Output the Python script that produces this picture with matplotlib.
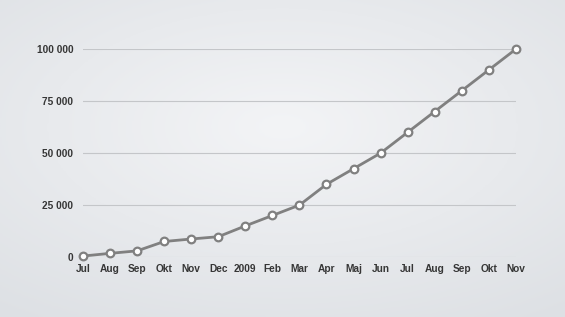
import numpy as np
import matplotlib
matplotlib.use("Agg")
import matplotlib.pyplot as plt
from matplotlib.colors import LinearSegmentedColormap
from matplotlib.ticker import FuncFormatter

months = ["Jul", "Aug", "Sep", "Okt", "Nov", "Dec", "2009", "Feb", "Mar",
          "Apr", "Maj", "Jun", "Jul", "Aug", "Sep", "Okt", "Nov"]
values = [500, 1800, 3000, 7500, 8700, 9800, 15000, 20000, 25000,
          35000, 42500, 50000, 60000, 70000, 80000, 90000, 100000]
y_ticks = [0, 25000, 50000, 75000, 100000]

plt.rcParams['font.family'] = ['Liberation Sans', 'DejaVu Sans']

fig = plt.figure(figsize=(5.65, 3.17), dpi=100)

# bakgrund med mjuk gradient
bg = fig.add_axes([0, 0, 1, 1])
yy, xx = np.mgrid[0:1:200j, 0:1:360j]
r = np.sqrt(((xx - 0.5) / 1.0) ** 2 + ((yy - 0.4) / 0.9) ** 2)
cmap = LinearSegmentedColormap.from_list("bg", ["#dde0e4", "#f3f4f6"])
bg.imshow(1 - r / r.max(), cmap=cmap, vmin=0, vmax=1, aspect="auto",
          extent=[0, 1, 0, 1])
bg.axis("off")

ax = fig.add_axes([0.147, 0.189, 0.766, 0.656])
ax.patch.set_alpha(0)
x = np.arange(len(months))
ax.plot(x, values, color="#808080", lw=2.0, marker="o", ms=5.5,
        mfc="white", mec="#808080", mew=1.6, clip_on=False, zorder=3)

ax.set_xlim(0, len(months) - 1)
ax.set_ylim(0, 100000)
ax.set_xticks(x)
ax.set_xticklabels(months)
ax.set_yticks(y_ticks)
ax.yaxis.set_major_formatter(FuncFormatter(lambda v, p: f"{int(v):,}".replace(",", " ")))
ax.grid(axis="y", color="#c4c6c9", lw=0.8)
ax.tick_params(length=0, labelsize=7.3, labelcolor="#363636")
ax.tick_params(axis="y", pad=7)
ax.tick_params(axis="x", pad=5)
for lab in ax.get_xticklabels() + ax.get_yticklabels():
    lab.set_fontweight("bold")
for s in ax.spines.values():
    s.set_visible(False)

fig.savefig("out.png", dpi=100)
